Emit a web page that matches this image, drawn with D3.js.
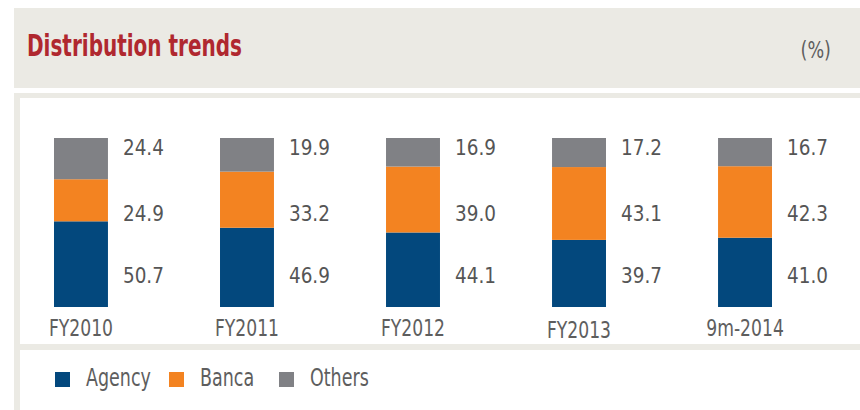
<!DOCTYPE html>
<html>
<head>
<meta charset="utf-8">
<script src="https://cdn.jsdelivr.net/npm/d3@7"></script>
<style>
  body { margin: 0; background: #fff; }
  svg { display: block; font-family: "DejaVu Sans", sans-serif; font-stretch: condensed; }
</style>
</head>
<body>
<script>
// chart data
const categories = ["FY2010", "FY2011", "FY2012", "FY2013", "9m-2014"];
const series = ["Agency", "Banca", "Others"];
const agency = [50.7, 46.9, 44.1, 39.7, 41.0];
const banca = [24.9, 33.2, 39.0, 43.1, 42.3];
const others = [24.4, 19.9, 16.9, 17.2, 16.7];
const colors = ["#03487d", "#f38321", "#808185"];

const width = 860, height = 410;

const svg = d3.select("body").append("svg")
  .attr("width", width)
  .attr("height", height);

// narrow the glyphs a bit, the original uses a condensed face
function squeeze(sel, k) {
  sel.each(function () {
    const len = this.getComputedTextLength();
    d3.select(this).attr("textLength", len * k).attr("lengthAdjust", "spacingAndGlyphs");
  });
}

// header band
svg.append("rect")
  .attr("x", 14).attr("y", 8)
  .attr("width", width - 14).attr("height", 80)
  .attr("fill", "#ebeae4");

svg.append("text")
  .attr("x", 27).attr("y", 56)
  .attr("font-size", 30)
  .attr("font-weight", "bold")
  .attr("fill", "#b0282f")
  .attr("textLength", 215)
  .attr("lengthAdjust", "spacingAndGlyphs")
  .text("Distribution trends");

svg.append("text")
  .attr("x", 831).attr("y", 58)
  .attr("text-anchor", "end")
  .attr("font-size", 23)
  .attr("fill", "#5e5e5e")
  .text("(%)")
  .call(squeeze, 0.85);

// panel frame
svg.append("rect").attr("x", 14).attr("y", 93).attr("width", width - 14).attr("height", 5).attr("fill", "#ebeae4");
svg.append("rect").attr("x", 14).attr("y", 93).attr("width", 6).attr("height", height - 93).attr("fill", "#ebeae4");
svg.append("rect").attr("x", 14).attr("y", 344).attr("width", width - 14).attr("height", 6).attr("fill", "#ebeae4");

// stacked data
const rows = categories.map((c, i) => ({ cat: c, Agency: agency[i], Banca: banca[i], Others: others[i] }));
const stack = d3.stack().keys(series)(rows);

const x = d3.scaleBand()
  .domain(categories)
  .range([54, 772])
  .paddingInner(0.675)
  .paddingOuter(0);

const y = d3.scaleLinear()
  .domain([0, 100])
  .range([307, 138]);

// fixed label rows beside each bar
const labelY = d3.scalePoint()
  .domain(["Others", "Banca", "Agency"])
  .range([155, 283]);

const groups = svg.append("g").selectAll("g")
  .data(stack)
  .join("g")
  .attr("fill", (d, i) => colors[i]);

groups.selectAll("rect")
  .data(d => d)
  .join("rect")
  .attr("x", d => x(d.data.cat))
  .attr("y", d => y(d[1]))
  .attr("width", x.bandwidth())
  .attr("height", d => y(d[0]) - y(d[1]));

svg.append("g").selectAll("g")
  .data(stack)
  .join("g")
  .selectAll("text")
  .data(d => d.map(v => ({ key: d.key, cat: v.data.cat, val: v.data[d.key] })))
  .join("text")
  .attr("x", d => x(d.cat) + x.bandwidth() + 15)
  .attr("y", d => labelY(d.key) + (d.key === "Banca" ? 2 : 0))
  .attr("font-size", 22)
  .attr("fill", "#555")
  .text(d => d.val.toFixed(1))
  .call(squeeze, 0.93);

// category axis
const xAxis = svg.append("g")
  .attr("transform", "translate(0,336)")
  .call(d3.axisBottom(x).tickSize(0).tickPadding(0));
xAxis.select(".domain").remove();
xAxis.selectAll("text")
  .attr("dy", d => d === "FY2013" ? 2 : 0)
  .attr("font-family", "DejaVu Sans, sans-serif")
  .attr("font-stretch", "condensed")
  .attr("font-size", 23)
  .attr("fill", "#5e5e5e")
  .call(squeeze, 0.83);

// legend
const legendX = [55, 169, 279];
const legend = svg.append("g").selectAll("g")
  .data(series)
  .join("g")
  .attr("transform", (d, i) => `translate(${legendX[i]},372)`);

legend.append("rect")
  .attr("width", 15).attr("height", 15)
  .attr("fill", (d, i) => colors[i]);

legend.append("text")
  .attr("x", 31).attr("y", 14)
  .attr("font-size", 24)
  .attr("fill", "#5e5e5e")
  .text(d => d)
  .call(squeeze, 0.81);
</script>
</body>
</html>
